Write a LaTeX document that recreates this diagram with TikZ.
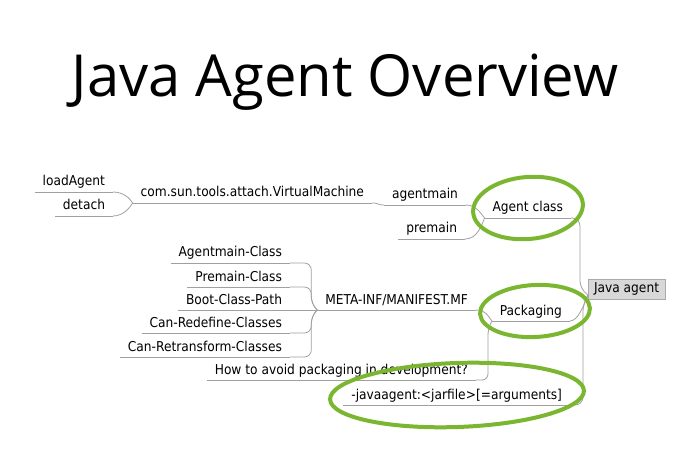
\documentclass[tikz,border=0pt]{standalone}
\usepackage{fontspec}
\setmainfont{DejaVu Sans Condensed}
\newfontfamily\titlefont{Open Sans}
\definecolor{branchgray}{RGB}{160,160,160}
\definecolor{brushgreen}{RGB}{122,182,48}
\definecolor{rootfill}{RGB}{216,216,216}
\definecolor{rootline}{RGB}{170,170,170}
\tikzset{
  topic/.style={inner xsep=8pt, inner ysep=3pt, text height=10.5pt, text depth=3pt, outer sep=0pt, font=\fontsize{13.6}{15}\selectfont},
  branch/.style={draw=branchgray, line width=0.8pt},
  brush/.style={draw=brushgreen, line width=4pt, line cap=round},
  rootbox/.style={fill=rootfill, draw=rootline, line width=0.6pt, inner xsep=6pt, inner ysep=0pt, minimum height=20pt, text height=10.5pt, text depth=3pt, outer sep=0pt, font=\fontsize{13.6}{15}\selectfont}
}
\begin{document}
\begin{tikzpicture}[x=1pt, y=-1pt]
      \useasboundingbox (0,0) rectangle (691,449);
      \node[font=\titlefont\fontsize{58}{60}\selectfont, anchor=base] (title) at (345,97) {Java Agent Overview};

      \node[rootbox, anchor=west] (root) at (588,289) {Java agent};
      \coordinate (hub) at ([yshift=4pt]root.south west);

      \node[topic, anchor=south east] (agentclass) at (571,218) {Agent class};
      \node[topic, anchor=south east] (agentmain) at (466,205) {agentmain};
      \node[topic, anchor=south east] (premain) at (465,239) {premain};
      \node[topic, anchor=south east] (vm) at (372,203) {com.sun.tools.attach.VirtualMachine};
      \node[topic, anchor=south east] (loadagent) at (113,192) {loadAgent};
      \node[topic, anchor=south east] (detach) at (113,216) {detach};

      \node[topic, anchor=south east] (packaging) at (570,321) {Packaging};
      \node[topic, anchor=south east] (manifest) at (476,310) {META-INF/MANIFEST.MF};
      \node[topic, anchor=south east] (agentmaincls) at (290,263) {Agentmain-Class};
      \node[topic, anchor=south east] (premaincls) at (290,287) {Premain-Class};
      \node[topic, anchor=south east] (bootpath) at (290,310) {Boot-Class-Path};
      \node[topic, anchor=south east] (redefine) at (290,333) {Can-Redefine-Classes};
      \node[topic, anchor=south east] (retransform) at (290,357) {Can-Retransform-Classes};
      \node[topic, anchor=south east] (howto) at (476,380) {How to avoid packaging in development?};
      \node[topic, anchor=south east] (javaagentopt) at (570,405) {-javaagent:<jarfile>[=arguments]};

      \foreach \n in {agentclass,agentmain,premain,vm,loadagent,detach,packaging,manifest,agentmaincls,premaincls,bootpath,redefine,retransform,howto,javaagentopt}
        \draw[branch] (\n.south west) -- (\n.south east);

      \draw[branch] (loadagent.south east) .. controls +(10,0) and +(-3,-5) .. (vm.south west);
      \draw[branch] (detach.south east) .. controls +(10,0) and +(-3,5) .. (vm.south west);
      \draw[branch] (vm.south east) .. controls +(7,0) and +(-7,0) .. (agentmain.south west);
      \draw[branch] (agentmain.south east) .. controls +(10,0) and +(-4,-5) .. (agentclass.south west);
      \draw[branch] (premain.south east) .. controls +(12,0) and +(-3,8) .. (agentclass.south west);

      \draw[branch] (manifest.south east) .. controls +(10,0) and +(-4,-5) .. (packaging.south west);
      \draw[branch, rounded corners=6pt] (howto.south east) -| ([xshift=-4pt,yshift=-8pt]packaging.south west) -- (packaging.south west);
      \draw[branch, rounded corners=7pt] (agentmaincls.south east) -| ([xshift=-6pt,yshift=6pt]manifest.south west) -- (manifest.south west);
      \draw[branch, rounded corners=7pt] (premaincls.south east) -| ([xshift=-6pt,yshift=6pt]manifest.south west) -- (manifest.south west);
      \draw[branch] (bootpath.south east) -- (manifest.south west);
      \draw[branch, rounded corners=7pt] (redefine.south east) -| ([xshift=-6pt,yshift=-6pt]manifest.south west) -- (manifest.south west);
      \draw[branch, rounded corners=7pt] (retransform.south east) -| ([xshift=-6pt,yshift=-6pt]manifest.south west) -- (manifest.south west);

      \draw[branch, rounded corners=8pt] (agentclass.south east) -| ([xshift=-8pt,yshift=6pt]hub) -- (hub);
      \draw[branch] (packaging.south east) .. controls +(8,0) and +(-4,10) .. (hub);
      \draw[branch, rounded corners=8pt] (javaagentopt.south east) -| ([xshift=-5pt,yshift=-8pt]hub) -- (hub);

      \draw[brush, rotate around={5:(528,208)}] (528,208) ellipse [x radius=55pt, y radius=31pt];
      \draw[brush, rotate around={3:(535,311)}] (535,311) ellipse [x radius=55pt, y radius=26pt];
      \draw[brush, rotate around={2:(457,395)}] (457,395) ellipse [x radius=127pt, y radius=32pt];
    \end{tikzpicture}
\end{document}
